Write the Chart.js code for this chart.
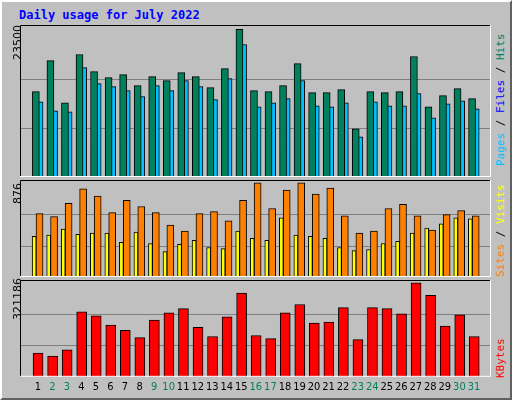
<!DOCTYPE html>
<html><head><meta charset="utf-8">
<script src="https://cdn.jsdelivr.net/npm/chart.js@4"></script>
<style>
body{margin:0;background:#c0c0c0;overflow:hidden;}
#frame{position:absolute;left:0;top:0;width:508px;height:396px;background:#c0c0c0;border-top:2px solid #fff;border-left:2px solid #fff;border-right:2px solid #606060;border-bottom:2px solid #606060;}
.box{position:absolute;}
.rot{position:absolute;transform-origin:0 0;transform:rotate(-90deg);white-space:nowrap;font-family:"DejaVu Sans Mono",monospace;font-size:11px;}
#title{position:absolute;left:19px;top:8px;font:bold 12px "DejaVu Sans Mono",monospace;color:#0000ff;}
</style></head><body>
<div id="frame"></div>
<div id="title">Daily usage for July 2022</div>
<div class="box" style="left:20px;top:25px;width:471px;height:152px"><canvas id="c1"></canvas></div>
<div class="box" style="left:20px;top:180px;width:471px;height:97px"><canvas id="c2"></canvas></div>
<div class="box" style="left:20px;top:280px;width:471px;height:118px"><canvas id="c3"></canvas></div>
<div class="rot" style="left:11px;top:60px;font-family:'DejaVu Sans',sans-serif">23500</div>
<div class="rot" style="left:11px;top:204px;font-family:'DejaVu Sans',sans-serif">876</div>
<div class="rot" style="left:11px;top:320px;font-family:'DejaVu Sans',sans-serif">321186</div>
<div class="rot" style="left:494px;top:166px"><span style="color:#00c0ff">Pages</span> / <span style="color:#0000ff">Files</span> / <span style="color:#00805c">Hits</span></div>
<div class="rot" style="left:494px;top:277px"><span style="color:#ff8000">Sites</span> / <span style="color:#ffff00">Visits</span></div>
<div class="rot" style="left:494px;top:378px"><span style="color:#ff0000">KBytes</span></div>
<script>
const days=[1,2,3,4,5,6,7,8,9,10,11,12,13,14,15,16,17,18,19,20,21,22,23,24,25,26,27,28,29,30,31];
const weekend=[2,3,9,10,16,17,23,24,30,31];
const hits=[13588,18544,11830,19503,16786,15826,16306,14547,15986,15347,16626,15986,14228,17265,23500,13748,13588,14547,18064,13429,13429,13908,7673,13588,13429,13588,19184,11190,12949,14068,12469];
const files=[11990,10551,10391,17425,14867,14388,13748,12789,14547,13748,15347,14388,12309,15667,21102,11190,11830,12469,15347,11350,11190,11830,6394,11990,11350,11350,13269,9432,11670,12149,10871];
const pages=[3357,3677,5595,7833,4796,4157,5755,3997,6235,7993,7354,5276,5116,7194,13588,3837,3197,4476,7354,3837,3837,3837,1918,3197,3517,3677,4796,4157,3037,4636,3357];
const visits=[589,561,685,819,752,599,713,656,599,484,427,589,608,522,713,876,637,809,876,771,828,570,408,427,637,675,570,436,580,618,570];
const sites=[379,389,446,398,408,408,322,417,312,236,303,341,274,264,427,360,341,551,389,379,360,274,245,255,312,331,408,455,494,551,541];
const kbytes=[81178,70590,91767,222359,208241,176475,158828,134121,194123,218829,232947,169416,137651,204711,285890,141180,130592,218829,247065,183534,187064,236477,127062,236477,232947,215300,321186,278831,172946,211770,137651];

const gridPlugin={id:'gp',beforeDatasetsDraw(ch,a,o){const c=ch.ctx,ar=ch.chartArea,y=ch.scales.y,m=ch.options.plugins.gp.max;
 c.save();c.strokeStyle='#808080';c.lineWidth=1;
 [m/3,2*m/3].forEach(v=>{const p=Math.round(y.getPixelForValue(v))+0.5;c.beginPath();c.moveTo(ar.left,p);c.lineTo(ar.right,p);c.stroke();});
 c.restore();},
 afterDraw(ch){const c=ch.ctx,ar=ch.chartArea;c.save();c.lineWidth=1;
 c.strokeStyle='#000';c.beginPath();c.moveTo(ar.left+0.5,ar.bottom);c.lineTo(ar.left+0.5,ar.top+0.5);c.lineTo(ar.right,ar.top+0.5);c.stroke();
 c.strokeStyle='#fff';c.beginPath();c.moveTo(ar.right-0.5,ar.top);c.lineTo(ar.right-0.5,ar.bottom-0.5);c.lineTo(ar.left,ar.bottom-0.5);c.stroke();c.restore();}};

function ds(vals,off,w,color){return {data:vals.map((v,i)=>({x:days[i]+off,y:v})),backgroundColor:color,borderColor:'#000',borderWidth:1,barThickness:w,grouped:false};}
function make(id,sets,max,showX){
 new Chart(document.getElementById(id),{type:'bar',data:{datasets:sets},plugins:[gridPlugin],
 options:{responsive:true,maintainAspectRatio:false,animation:false,layout:{padding:0},
 plugins:{legend:{display:false},tooltip:{enabled:false},gp:{max:max}},
 scales:{x:{type:'linear',min:0.3,max:31.65,display:showX,grid:{display:false,drawTicks:false},border:{display:false},
   afterBuildTicks:s=>{s.ticks=days.map(d=>({value:d}));},
   ticks:{autoSkip:false,maxRotation:0,padding:4,font:{family:'DejaVu Sans Condensed, Liberation Sans',size:11},color:c=>weekend.includes(c.tick.value)?'#00805c':'#000',callback:v=>String(v)}},
  y:{display:false,min:0,max:max*1.03}}}});}
make('c1',[ds(hits,-0.13,7,'#00805c'),ds(files,0.12,7,'#00c0ff'),ds(pages,-0.2,3,'#0000ff')],23500,false);
make('c2',[ds(sites,-0.25,4,'#ffff00'),ds(visits,0.12,7,'#ff8000')],876,false);
make('c3',[ds(kbytes,0.02,10,'#ff0000')],321186,true);
</script></body></html>
